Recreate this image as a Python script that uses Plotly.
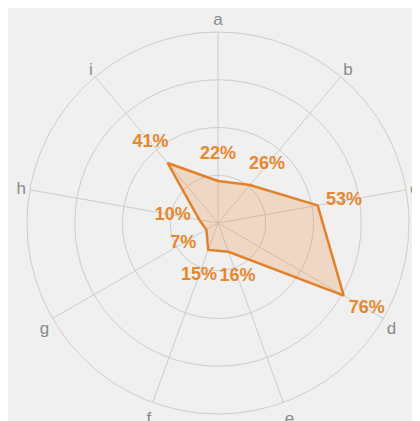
import plotly.graph_objects as go

categories = ["a", "b", "c", "d", "e", "f", "g", "h", "i"]
values = [22, 26, 53, 76, 16, 15, 7, 10, 41]
labels = [f"{v}%" for v in values]
label_offset = 14  # radial offset of the value labels, in data units

fig = go.Figure()
fig.add_trace(go.Scatterpolar(
    r=values + values[:1],
    theta=categories + categories[:1],
    mode="lines",
    line=dict(color="#e3812a", width=2.5),
    fill="toself",
    fillcolor="rgba(232,140,60,0.25)",
    hoverinfo="skip",
))
fig.add_trace(go.Scatterpolar(
    r=[v + label_offset for v in values],
    theta=categories,
    mode="text",
    text=labels,
    textposition="middle center",
    textfont=dict(color="#e8872e", size=18, family="Liberation Sans, Arial", weight="bold"),
    hoverinfo="skip",
))

fig.update_layout(
    width=420, height=421,
    showlegend=False,
    paper_bgcolor="#f0f0f0",
    plot_bgcolor="#f0f0f0",
    margin=dict(l=19, r=19, t=24, b=15),
    polar=dict(
        bgcolor="#f0f0f0",
        domain=dict(x=[0, 1], y=[0, 1]),
        radialaxis=dict(
            range=[0, 100],
            tickvals=[25, 50, 75, 100],
            showticklabels=False,
            ticks="",
            showline=False,
            gridcolor="#cdcdcd",
            gridwidth=1,
        ),
        angularaxis=dict(
            direction="clockwise",
            rotation=90,
            ticks="",
            showline=True,
            linecolor="#cdcdcd",
            gridcolor="#cdcdcd",
            tickfont=dict(color="#8a8a8a", size=17, family="Liberation Sans, Arial"),
        ),
    ),
)

fig.write_html("out.html")
